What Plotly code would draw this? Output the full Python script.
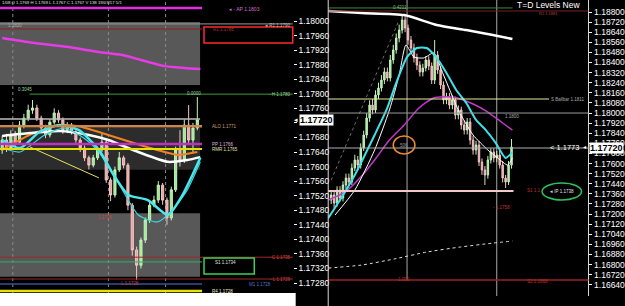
import plotly.graph_objects as go

W, H = 625, 306
def px(x):
    return x / W
def py(y):
    return 1 - y / H

# ---------------- Left chart (H1 style window) ----------------
left_open = [1.17646, 1.17673, 1.17651, 1.17687, 1.17667, 1.17714, 1.17733, 1.17755, 1.17761, 1.17733,
             1.17706, 1.17687, 1.17722, 1.17747, 1.17728, 1.17700, 1.17714, 1.17695, 1.17673, 1.17651,
             1.17624, 1.17604, 1.17624, 1.17646, 1.17667, 1.17563, 1.17522, 1.17591, 1.17624, 1.17604,
             1.17494, 1.17371, 1.17329, 1.17398, 1.17453, 1.17494, 1.17508, 1.17549, 1.17508, 1.17459,
             1.17536, 1.17646, 1.17618, 1.17714, 1.17673, 1.17706]
left_close = [1.17673, 1.17651, 1.17687, 1.17667, 1.17714, 1.17733, 1.17755, 1.17761, 1.17733, 1.17706,
              1.17687, 1.17722, 1.17747, 1.17728, 1.17700, 1.17714, 1.17695, 1.17673, 1.17651, 1.17624,
              1.17604, 1.17624, 1.17646, 1.17667, 1.17563, 1.17522, 1.17591, 1.17624, 1.17604, 1.17494,
              1.17371, 1.17329, 1.17398, 1.17453, 1.17494, 1.17508, 1.17549, 1.17508, 1.17459, 1.17536,
              1.17646, 1.17618, 1.17714, 1.17673, 1.17706, 1.17728]
left_high = [1.17685, 1.17690, 1.17700, 1.17698, 1.17725, 1.17745, 1.17770, 1.17783, 1.17770, 1.17740,
             1.17715, 1.17730, 1.17760, 1.17755, 1.17735, 1.17722, 1.17720, 1.17700, 1.17680, 1.17658,
             1.17630, 1.17632, 1.17655, 1.17690, 1.17675, 1.17570, 1.17600, 1.17640, 1.17630, 1.17610,
             1.17500, 1.17380, 1.17405, 1.17460, 1.17505, 1.17520, 1.17560, 1.17555, 1.17515, 1.17545,
             1.17655, 1.17700, 1.17730, 1.17769, 1.17720, 1.17791]
left_low = [1.17635, 1.17640, 1.17645, 1.17655, 1.17660, 1.17705, 1.17725, 1.17745, 1.17725, 1.17695,
            1.17678, 1.17680, 1.17715, 1.17720, 1.17690, 1.17692, 1.17688, 1.17665, 1.17640, 1.17615,
            1.17592, 1.17598, 1.17618, 1.17640, 1.17555, 1.17505, 1.17515, 1.17585, 1.17595, 1.17480,
            1.17355, 1.17288, 1.17320, 1.17390, 1.17445, 1.17488, 1.17500, 1.17495, 1.17440, 1.17452,
            1.17530, 1.17600, 1.17610, 1.17660, 1.17640, 1.17700]
left_bar = list(range(len(left_close)))

left_magenta_x = [0, 7, 14.8, 22.3, 27.5, 32, 37.5, 42, 45.7]
left_magenta = [1.17953, 1.17940, 1.17929, 1.17915, 1.17907, 1.17893, 1.17876, 1.17871, 1.17868]
left_orange_x = [0, 6.4, 13.2, 17.7, 22.3, 29.8, 37.5, 40.5, 45]
left_orange = [1.17646, 1.17687, 1.17714, 1.17711, 1.17695, 1.17667, 1.17640, 1.17632, 1.17640]
left_white_x = [0, 6.4, 13.2, 20, 24.5, 31.4, 38.2, 42.7, 45.7]
left_white = [1.17684, 1.17692, 1.17698, 1.17687, 1.17673, 1.17640, 1.17613, 1.17618, 1.17626]
left_cyan_x = [0, 4.1, 8.6, 13.2, 17.7, 22.3, 25.7, 29.1, 33.6, 38.2, 41.6, 45.7]
left_cyan = [1.17673, 1.17651, 1.17695, 1.17714, 1.17700, 1.17646, 1.17577, 1.17522, 1.17508, 1.17467,
             1.17522, 1.17624]
left_cyan2_x = [0, 4.1, 9.8, 14.3, 18.9, 22.3, 26.8, 31.4, 35.9, 39.3, 42.7, 45.7]
left_cyan2 = [1.17651, 1.17640, 1.17687, 1.17706, 1.17678, 1.17640, 1.17555, 1.17467, 1.17448, 1.17481,
              1.17536, 1.17613]
left_trend_x = [6.4, 22.3]
left_trend = [1.17654, 1.17569]

# left level lines (prices)
left_level_prices = [1.18036, 1.17992, 1.17978, 1.17799, 1.17731, 1.17711, 1.17662, 1.17648,
                     1.17351, 1.17338, 1.17291, 1.17277, 1.17258]
left_zone_tops = [1.17997, 1.17706, 1.17472]
left_zone_bottoms = [1.17824, 1.17591, 1.17297]

left_tick_values = [1.18000, 1.17960, 1.17920, 1.17880, 1.17840, 1.17800, 1.17760, 1.17720, 1.17680,
                    1.17640, 1.17600, 1.17560, 1.17520, 1.17480, 1.17440, 1.17400, 1.17360, 1.17320,
                    1.17280]
# the 1.17720 tick is hidden under the current-price box in the reference
left_tick_labels = ["1.18000", "1.17960", "1.17920", "1.17880", "1.17840", "1.17800", "1.17760",
                    "", "1.17680", "1.17640", "1.17600", "1.17560", "1.17520", "1.17480",
                    "1.17440", "1.17400", "1.17360", "1.17320", "1.17280"]

# ---------------- Right chart ----------------
right_open = [1.17311, 1.17351, 1.17287, 1.17390, 1.17327, 1.17430, 1.17485, 1.17454, 1.17564, 1.17628,
              1.17588, 1.17723, 1.17826, 1.17960, 1.18063, 1.18024, 1.18143, 1.18198, 1.18261, 1.18325,
              1.18277, 1.18420, 1.18499, 1.18594, 1.18657, 1.18737, 1.18673, 1.18578, 1.18515, 1.18436,
              1.18380, 1.18325, 1.18356, 1.18420, 1.18372, 1.18261, 1.18459, 1.18341, 1.18222, 1.18103,
              1.18127, 1.18063, 1.18103, 1.17984, 1.18024, 1.17905, 1.17865, 1.17929, 1.17786, 1.17707,
              1.17747, 1.17612, 1.17549, 1.17509, 1.17628, 1.17691, 1.17644, 1.17667, 1.17588, 1.17485,
              1.17454, 1.17588]
right_close = [1.17351, 1.17287, 1.17390, 1.17327, 1.17430, 1.17485, 1.17454, 1.17564, 1.17628, 1.17588,
               1.17723, 1.17826, 1.17960, 1.18063, 1.18024, 1.18143, 1.18198, 1.18261, 1.18325, 1.18277,
               1.18420, 1.18499, 1.18594, 1.18657, 1.18737, 1.18673, 1.18578, 1.18515, 1.18436, 1.18380,
               1.18325, 1.18356, 1.18420, 1.18372, 1.18261, 1.18459, 1.18341, 1.18222, 1.18103, 1.18127,
               1.18063, 1.18103, 1.17984, 1.18024, 1.17905, 1.17865, 1.17929, 1.17786, 1.17707, 1.17747,
               1.17612, 1.17549, 1.17509, 1.17628, 1.17691, 1.17644, 1.17667, 1.17588, 1.17485, 1.17454,
               1.17588, 1.17731]
right_high = [1.17390, 1.17380, 1.17420, 1.17420, 1.17460, 1.17520, 1.17520, 1.17600, 1.17670, 1.17660,
              1.17760, 1.17860, 1.18000, 1.18100, 1.18110, 1.18180, 1.18240, 1.18300, 1.18360, 1.18360,
              1.18460, 1.18540, 1.18630, 1.18700, 1.18784, 1.18770, 1.18700, 1.18610, 1.18550, 1.18470,
              1.18410, 1.18390, 1.18450, 1.18450, 1.18400, 1.18578, 1.18490, 1.18370, 1.18250, 1.18160,
              1.18160, 1.18140, 1.18130, 1.18060, 1.18050, 1.17940, 1.17960, 1.17960, 1.17820, 1.17780,
              1.17780, 1.17640, 1.17580, 1.17660, 1.17720, 1.17720, 1.17700, 1.17700, 1.17620, 1.17510,
              1.17620, 1.17794]
right_low = [1.17280, 1.17248, 1.17260, 1.17300, 1.17300, 1.17400, 1.17420, 1.17430, 1.17540, 1.17550,
             1.17560, 1.17700, 1.17800, 1.17930, 1.17990, 1.18000, 1.18110, 1.18170, 1.18230, 1.18250,
             1.18250, 1.18390, 1.18470, 1.18560, 1.18630, 1.18640, 1.18540, 1.18480, 1.18400, 1.18340,
             1.18290, 1.18290, 1.18330, 1.18340, 1.18230, 1.18230, 1.18310, 1.18190, 1.18070, 1.18070,
             1.18030, 1.18030, 1.17950, 1.17950, 1.17870, 1.17830, 1.17830, 1.17750, 1.17670, 1.17670,
             1.17580, 1.17510, 1.17430, 1.17480, 1.17600, 1.17610, 1.17610, 1.17560, 1.17450, 1.17406,
             1.17430, 1.17560]
right_bar = list(range(len(right_close)))

right_cyan_x = [-1, 3, 8, 14.7, 18.7, 22, 25.7, 29, 32.3, 35.7, 39, 42.3, 45.7, 49, 52.3, 55.7, 59, 61.3]
right_cyan = [1.17168, 1.17311, 1.17509, 1.17826, 1.18024, 1.18238, 1.18444, 1.18515, 1.18515, 1.18436,
              1.18317, 1.18182, 1.18079, 1.17945, 1.17865, 1.17762, 1.17644, 1.17691]
right_white_x = [1.3, 8, 14.7, 19.7, 23, 25.3, 28, 31.3, 34.7, 38, 43, 48, 53, 56.3, 59.7, 61.3]
right_white = [1.17192, 1.17390, 1.17707, 1.18024, 1.18301, 1.18539, 1.18444, 1.18436, 1.18475, 1.18301,
               1.18024, 1.17826, 1.17707, 1.17644, 1.17588, 1.17644]
right_magenta_x = [-1, 4.7, 9.7, 14.7, 19.7, 24.7, 29.7, 34.7, 41.3, 48, 53, 58, 61.3]
right_magenta = [1.17311, 1.17374, 1.17485, 1.17628, 1.17786, 1.17905, 1.18040, 1.18119, 1.18127, 1.18071,
                 1.18008, 1.17921, 1.17865]
right_slow_x = [-1, 10.3, 24.7, 35.7, 45.7, 54.7, 61.3]
right_slow = [1.18808, 1.18792, 1.18776, 1.18697, 1.18657, 1.18618, 1.18586]
right_dotted_x = [-1, 10.3, 21.3, 32.3, 43.7, 54.7, 61.3]
right_dotted = [1.16772, 1.16796, 1.16844, 1.16899, 1.16939, 1.16970, 1.16986]
right_trend_x = [0, 23]
right_trend = [1.17469, 1.18737]

right_level_prices = [1.18832, 1.18808, 1.18111, 1.18000, 1.17723, 1.17382, 1.16677]

right_tick_labels = ["1.18800", "1.18720", "1.18640", "1.18560", "1.18480", "1.18400", "1.18320",
                     "1.18240", "1.18160", "1.18080", "1.18000", "1.17920", "1.17840", "1.17760",
                     "1.17680", "1.17600", "1.17520", "1.17440", "1.17360", "1.17280", "1.17200",
                     "1.17120", "1.17040", "1.16960", "1.16880", "1.16800", "1.16720", "1.16640"]

FONT = "Liberation Sans, Arial, sans-serif"
GREEN_BODY = "#9bea8f"
PINK_BODY = "#eea3a3"

fig = go.Figure()

def candles(x, o, h, l, c, xa, ya):
    return go.Candlestick(
        x=x, open=o, high=h, low=l, close=c, xaxis=xa, yaxis=ya,
        increasing=dict(line=dict(color="#c6f3bd", width=1), fillcolor=GREEN_BODY),
        decreasing=dict(line=dict(color="#f3c4c4", width=1), fillcolor=PINK_BODY),
        whiskerwidth=0, showlegend=False, hoverinfo="skip")

def line(x, y, xa, ya, color, width, dash="solid"):
    return go.Scatter(x=x, y=y, xaxis=xa, yaxis=ya, mode="lines",
                      line=dict(color=color, width=width, dash=dash, shape="spline", smoothing=0.6),
                      showlegend=False, hoverinfo="skip")

# left traces
fig.add_trace(line(left_magenta_x, left_magenta, "x", "y", "#e63ce6", 2.5))
fig.add_trace(line(left_trend_x, left_trend, "x", "y", "#e8e060", 1))
fig.add_trace(candles(left_bar, left_open, left_high, left_low, left_close, "x", "y"))
fig.add_trace(line(left_orange_x, left_orange, "x", "y", "#f0841e", 2))
fig.add_trace(line(left_white_x, left_white, "x", "y", "#ffffff", 2.5))
fig.add_trace(line(left_cyan2_x, left_cyan2, "x", "y", "#36d8e0", 1.2))
fig.add_trace(line(left_cyan_x, left_cyan, "x", "y", "#48e8ec", 2.5))

# right traces
fig.add_trace(line(right_trend_x, right_trend, "x2", "y2", "#888888", 0.8, "dot"))
fig.add_trace(line(right_slow_x, right_slow, "x2", "y2", "#ffffff", 2.5))
fig.add_trace(line(right_dotted_x, right_dotted, "x2", "y2", "#dddddd", 1, "dot"))
fig.add_trace(candles(right_bar, right_open, right_high, right_low, right_close, "x2", "y2"))
fig.add_trace(line(right_magenta_x, right_magenta, "x2", "y2", "#c038c8", 1.5))
fig.add_trace(line(right_white_x, right_white, "x2", "y2", "#ffffff", 1))
fig.add_trace(line(right_cyan_x, right_cyan, "x2", "y2", "#40e0e8", 2))

shapes = []
# left zones
zone_colors = ["rgb(88,88,88)", "rgb(44,44,44)", "rgb(88,88,88)"]
for top, bot, col in zip(left_zone_tops, left_zone_bottoms, zone_colors):
    shapes.append(dict(type="rect", xref="paper", yref="y", x0=0, x1=px(203), y0=bot, y1=top,
                       fillcolor=col, line=dict(width=0), layer="below"))
# left vertical dotted separators
for vx in [13, 110, 168]:
    shapes.append(dict(type="line", xref="paper", yref="paper", x0=px(vx), x1=px(vx),
                       y0=py(293), y1=1, line=dict(color="#8a8a8a", width=1, dash="dot"), layer="below"))
# left level lines: (x0, x1, colour, width)
left_level_styles = [(0, 205, "#e22ee2", 2.5), (0, 297, "#9a9a9a", 1), (0, 205, "#8b2020", 1),
                     (30, 297, "#3c9a3c", 1), (0, 203, "#bdbdbd", 1.5), (0, 205, "#c88850", 2.5),
                     (0, 205, "#c030c0", 2.5), (0, 205, "#e8e000", 2), (0, 297, "#a02828", 1),
                     (0, 205, "#30b060", 1), (0, 297, "#a02828", 1), (0, 205, "#3050a0", 1.5),
                     (0, 205, "#e8e000", 2.5)]
for p, (x0, x1, col, w) in zip(left_level_prices, left_level_styles):
    shapes.append(dict(type="line", xref="paper", yref="y", x0=px(x0), x1=px(x1), y0=p, y1=p,
                       line=dict(color=col, width=w)))
# boxes
shapes.append(dict(type="rect", xref="paper", yref="paper", x0=px(207), x1=px(297), y0=py(43), y1=py(27),
                   line=dict(color="#ff2a2a", width=1.5)))
shapes.append(dict(type="rect", xref="paper", yref="paper", x0=px(207), x1=px(258), y0=py(274), y1=py(258),
                   line=dict(color="#3ccf5a", width=1.5)))
# right vertical lines
shapes.append(dict(type="line", xref="paper", yref="paper", x0=px(413), x1=px(413), y0=py(280), y1=1,
                   line=dict(color="#a8a8a8", width=1), layer="below"))
shapes.append(dict(type="line", xref="paper", yref="paper", x0=px(504), x1=px(504), y0=py(296), y1=1,
                   line=dict(color="#a8a8a8", width=1), layer="below"))
right_level_styles = [(333, 520, "#3c8a3c", 1), (333, 597, "#7a2020", 1), (333, 557, "#ecec9c", 1.2),
                      (333, 597, "#9a9a9a", 1), (333, 597, "#b0b0b0", 1), (333, 521, "#f2c8c8", 2),
                      (333, 597, "#9a2020", 1.5)]
for p, (x0, x1, col, w) in zip(right_level_prices, right_level_styles):
    shapes.append(dict(type="line", xref="paper", yref="y2", x0=px(x0), x1=px(x1), y0=p, y1=p,
                       line=dict(color=col, width=w)))
# left border of right panel
shapes.append(dict(type="line", xref="paper", yref="paper", x0=px(333), x1=px(333), y0=0, y1=1,
                   line=dict(color="#d8d8d8", width=1)))
# ellipses
shapes.append(dict(type="circle", xref="paper", yref="paper", x0=px(399), x1=px(421), y0=py(154), y1=py(136),
                   line=dict(color="#f08a30", width=1.5)))
shapes.append(dict(type="circle", xref="paper", yref="paper", x0=px(550), x1=px(590), y0=py(200), y1=py(183),
                   line=dict(color="#2fbf5f", width=1.5)))
# white strip at bottom of left window
shapes.append(dict(type="rect", xref="paper", yref="paper", x0=0, x1=px(300), y0=0, y1=py(293),
                   fillcolor="#ffffff", line=dict(width=0)))

annotations = []
def lab(text, x, y, color, size=5, anchor="left", bg=None, bold=False):
    d = dict(text=("<b>%s</b>" % text) if bold else text, xref="paper", yref="paper",
             x=px(x), y=py(y), xanchor=anchor, yanchor="middle", showarrow=False,
             font=dict(family=FONT, size=size, color=color))
    if bg:
        d["bgcolor"] = bg
        d["borderpad"] = 0
    annotations.append(d)

lab("1/08 O 1.1769 H 1.1769 L 1.1767 C 1.1767 V 138 19/07/17 5/1", 0, 3, "#e0e0e0", 4.3)
lab("◂ - AP 1.1803", 230, 9, "#d070d0")
lab("1.1820", 6, 25, "#aaaaaa", 4.5)
lab("◂ R1 1.1790", 297, 25, "#bbbbbb", 4.5, "right")
lab("R1 1.1788", 214, 30, "#b03030", 4.5)
lab("0.3045", 16, 89, "#9fd09f", 4.5)
lab("0.0000", 188, 93, "#9fd09f", 4.5)
lab("- H 1.1780", 297, 94, "#9fd09f", 4.5, "right")
lab("ALO 1.1771", 213, 126, "#c8a070", 4.5)
lab("PP 1.1766", 213, 144, "#e0b0e0", 4.5)
lab("RMR 1.1765", 213, 149, "#e0e0b0", 4.5)
lab("1.1736", 97, 217, "#d04040", 4.5)
lab("- C 1.1735", 297, 257, "#d04040", 4.5, "right")
lab("S1 1.1734", 216, 262, "#e0e0e0", 4.5)
lab("- L 1.1729", 297, 279, "#d04040", 4.5, "right")
lab("L 1.1728", 121, 283, "#d04040", 4.5)
lab("M1 1.1728", 251, 284, "#5070d0", 4.5)
lab("R4 1.1728", 213, 291, "#f0f0d0", 4.5)
lab("◂", 296, 120, "#ffffff", 6.5)

lab("0.4211", 397, 7, "#7fc07f", 4.5)
lab("R2 1.1881", 545, 14, "#b04040", 4)
lab("T=D Levels New", 523, 5, "#ffffff", 8.5)
lab("S Ballbar 1.1811", 595, 100, "#aaaaaa", 4.5, "right")
lab("1.1800", 510, 116, "#aaaaaa", 4.5)
lab("< 1.1773", 556, 147, "#ffffff", 7.5)
lab("◂", 589, 147, "#ffffff", 5.5)
lab("506", 410, 145, "#999999", 4.5, "center")
lab("S1 1.1", 533, 190, "#c03030", 4.5)
lab("◂ IP 1.1738", 556, 191, "#e0e0e0", 4.5)
lab("- 1.1758", 498, 207, "#c03030", 4.5)
lab("1.000", 402, 279, "#c03030", 4.5)
lab("S2 1.1668", 533, 281, "#c03030", 4.5)

# current-price highlight boxes on the axes
lab("1.17720", 303, 120.5, "#000000", 9, "left", "#ffffff", True)
lab("1.17720", 598, 148, "#000000", 9, "left", "#ffffff", True)

axis_common = dict(showgrid=False, zeroline=False, fixedrange=True)
fig.update_layout(
    width=W, height=H, margin=dict(l=0, r=0, t=0, b=0),
    paper_bgcolor="#000000", plot_bgcolor="#000000",
    font=dict(family=FONT, color="#ffffff"),
    showlegend=False,
    xaxis=dict(domain=[0, px(297)], range=[-0.5, 67], visible=False, rangeslider=dict(visible=False),
               **axis_common),
    yaxis=dict(domain=[py(293), 1], range=[1.172526, 1.180577], anchor="x", side="right",
               tickvals=left_tick_values, ticktext=left_tick_labels,
               tickfont=dict(size=8.5, color="#ffffff", family=FONT), ticks="outside", ticklen=3,
               tickcolor="#ffffff", showline=False, **axis_common),
    xaxis2=dict(domain=[px(333), px(597)], range=[-1, 87], visible=False, rangeslider=dict(visible=False),
                anchor="y2", **axis_common),
    yaxis2=dict(domain=[py(296), 1], range=[1.16551, 1.18895], anchor="x2", side="right",
                tickvals=[float(t) for t in right_tick_labels], ticktext=right_tick_labels,
                tickfont=dict(size=8.5, color="#ffffff", family=FONT), ticks="outside", ticklen=3,
                tickcolor="#ffffff", showline=True, linecolor="#d8d8d8", linewidth=1, **axis_common),
    shapes=shapes, annotations=annotations,
)

fig.write_html("out.html")
